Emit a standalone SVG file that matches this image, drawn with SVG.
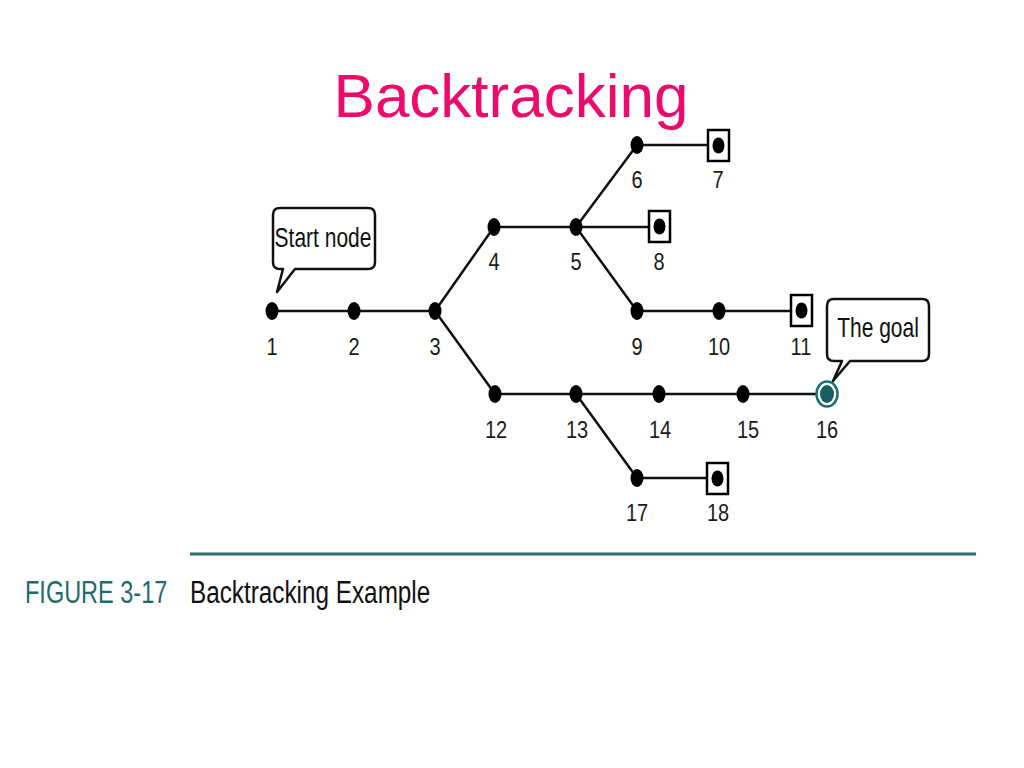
<svg xmlns="http://www.w3.org/2000/svg" width="1024" height="768" viewBox="0 0 1024 768">
<style>
.edge{stroke:#111;stroke-width:2.5;fill:none;stroke-linecap:round}
.dot{fill:#000}
.box{fill:#fff;stroke:#000;stroke-width:2.5}
.lbl{font-family:"Liberation Sans",Arial,sans-serif;font-size:20px;fill:#1a1a1a;text-anchor:middle}
.callout{fill:#fff;stroke:#111;stroke-width:2.5;stroke-linejoin:round}
.ctext{font-family:"Liberation Sans",Arial,sans-serif;font-size:21px;fill:#111;text-anchor:middle}
</style>
<rect width="1024" height="768" fill="#fff"/>
<text x="511" y="117" font-family="'Liberation Sans',Arial,sans-serif" font-size="62" fill="#EE0A6B" text-anchor="middle">Backtracking</text>

<g id="connectors">
<line class="edge" x1="272" y1="311" x2="435" y2="311"/>
<line class="edge" x1="435" y1="311" x2="494" y2="227"/>
<line class="edge" x1="435" y1="311" x2="495" y2="394"/>
<line class="edge" x1="494" y1="227" x2="649" y2="227"/>
<line class="edge" x1="576" y1="227" x2="637" y2="145"/>
<line class="edge" x1="637" y1="145" x2="708" y2="145"/>
<line class="edge" x1="576" y1="227" x2="637" y2="311"/>
<line class="edge" x1="637" y1="311" x2="791" y2="311"/>
<line class="edge" x1="495" y1="394" x2="816" y2="394"/>
<line class="edge" x1="576" y1="394" x2="637" y2="478"/>
<line class="edge" x1="637" y1="478" x2="707" y2="478"/>
</g>

<g id="n1"><ellipse class="dot" cx="272" cy="311" rx="6.5" ry="9"/><text class="lbl" transform="translate(272,355) scale(1,1.22)">1</text></g>
<g id="n2"><ellipse class="dot" cx="354" cy="311" rx="6.5" ry="9"/><text class="lbl" transform="translate(354,355) scale(1,1.22)">2</text></g>
<g id="n3"><ellipse class="dot" cx="435" cy="311" rx="6.5" ry="9"/><text class="lbl" transform="translate(435,355) scale(1,1.22)">3</text></g>
<g id="n4"><ellipse class="dot" cx="494" cy="227" rx="6.5" ry="9"/><text class="lbl" transform="translate(494,270) scale(1,1.22)">4</text></g>
<g id="n5"><ellipse class="dot" cx="576" cy="227" rx="6.5" ry="9"/><text class="lbl" transform="translate(576,270) scale(1,1.22)">5</text></g>
<g id="n6"><ellipse class="dot" cx="637" cy="145" rx="6.5" ry="9"/><text class="lbl" transform="translate(637,188) scale(1,1.22)">6</text></g>
<g id="n7"><rect class="box" x="708" y="130" width="21" height="31"/><ellipse class="dot" cx="718.5" cy="145.5" rx="6" ry="8"/><text class="lbl" transform="translate(718,188) scale(1,1.22)">7</text></g>
<g id="n8"><rect class="box" x="649" y="211" width="21" height="31"/><ellipse class="dot" cx="659.5" cy="226.5" rx="6" ry="8"/><text class="lbl" transform="translate(659,270) scale(1,1.22)">8</text></g>
<g id="n9"><ellipse class="dot" cx="637" cy="311" rx="6.5" ry="9"/><text class="lbl" transform="translate(637,355) scale(1,1.22)">9</text></g>
<g id="n10"><ellipse class="dot" cx="719" cy="311" rx="6.5" ry="9"/><text class="lbl" transform="translate(719,355) scale(1,1.22)">10</text></g>
<g id="n11"><rect class="box" x="791" y="295" width="21" height="31"/><ellipse class="dot" cx="801.5" cy="310.5" rx="6" ry="8"/><text class="lbl" transform="translate(801,355) scale(1,1.22)">11</text></g>
<g id="n12"><ellipse class="dot" cx="495" cy="394" rx="6.5" ry="9"/><text class="lbl" transform="translate(496,438) scale(1,1.22)">12</text></g>
<g id="n13"><ellipse class="dot" cx="576" cy="394" rx="6.5" ry="9"/><text class="lbl" transform="translate(577,438) scale(1,1.22)">13</text></g>
<g id="n14"><ellipse class="dot" cx="659" cy="394" rx="6.5" ry="9"/><text class="lbl" transform="translate(660,438) scale(1,1.22)">14</text></g>
<g id="n15"><ellipse class="dot" cx="743" cy="394" rx="6.5" ry="9"/><text class="lbl" transform="translate(748,438) scale(1,1.22)">15</text></g>
<g id="n16"><ellipse cx="827" cy="394" rx="10.5" ry="12.5" fill="#fff" stroke="#1d6e6e" stroke-width="2.5"/><ellipse cx="827" cy="394" rx="7" ry="9" fill="#17605f"/><text class="lbl" transform="translate(827,438) scale(1,1.22)">16</text></g>
<g id="n17"><ellipse class="dot" cx="637" cy="478" rx="6.5" ry="9"/><text class="lbl" transform="translate(637,521) scale(1,1.22)">17</text></g>
<g id="n18"><rect class="box" x="707" y="463" width="21" height="31"/><ellipse class="dot" cx="717.5" cy="478.5" rx="6" ry="8"/><text class="lbl" transform="translate(718,521) scale(1,1.22)">18</text></g>

<g id="callout-start">
<path class="callout" d="M280 208 H368 Q375 208 375 215 V262 Q375 269 368 269 H295 L277 292 L283 269 H280 Q273 269 273 262 V215 Q273 208 280 208 Z"/>
<text class="ctext" transform="translate(323,247) scale(1,1.33)">Start node</text>
</g>
<g id="callout-goal">
<path class="callout" d="M834 299 H922 Q929 299 929 306 V354 Q929 361 922 361 H850 L833 381 L842 361 H834 Q827 361 827 354 V306 Q827 299 834 299 Z"/>
<text class="ctext" transform="translate(878,337) scale(1,1.33)">The goal</text>
</g>

<g id="caption">
<line x1="190" y1="554" x2="976" y2="554" stroke="#2b6f70" stroke-width="3"/>
<text transform="translate(25,603) scale(1,1.31)" font-family="'Liberation Sans',Arial,sans-serif" font-size="23.5" fill="#1f6b6c">FIGURE 3-17</text>
<text transform="translate(190,603) scale(1,1.26)" font-family="'Liberation Sans',Arial,sans-serif" font-size="24.3" fill="#111">Backtracking Example</text>
</g>
</svg>
